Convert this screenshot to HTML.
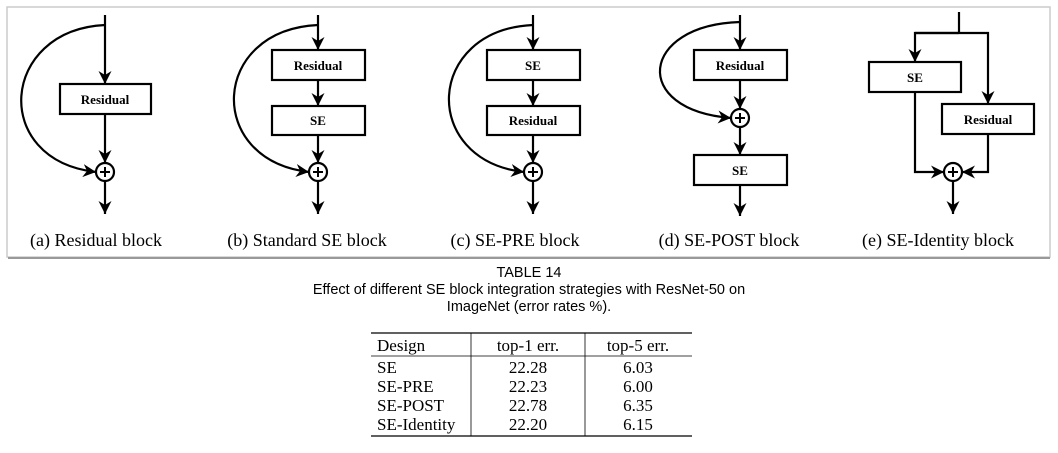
<!DOCTYPE html>
<html><head><meta charset="utf-8"><style>
body{margin:0;background:#fff;width:1058px;height:453px;overflow:hidden}
svg{display:block}
.s{font-family:"Liberation Serif",serif}
.b{font-family:"Liberation Serif",serif;font-weight:bold;font-size:13px}
.a{font-family:"Liberation Sans",sans-serif}
</style></head><body>
<svg width="1058" height="453" viewBox="0 0 1058 453">
<defs><marker id="ar" markerWidth="14" markerHeight="14" refX="13" refY="6.5" orient="auto" markerUnits="userSpaceOnUse"><path d="M0,0 L13,6.5 L0,13 L4,6.5 Z" fill="#000"/></marker></defs>
<rect x="7" y="7" width="1043" height="250" fill="none" stroke="#ccc" stroke-width="1.5"/>
<line x1="8" y1="258" x2="1050" y2="258" stroke="#999" stroke-width="2"/>
<g stroke="#000" stroke-width="2.2" fill="none">
<!-- (a) -->
<line x1="105" y1="15" x2="105" y2="84" marker-end="url(#ar)"/>
<rect x="60" y="84" width="91" height="30" fill="#fff"/>
<line x1="105" y1="114" x2="105" y2="163" marker-end="url(#ar)"/>
<circle cx="105" cy="172" r="9"/>
<path d="M105,25 C0,30 -10,160 96,172" marker-end="url(#ar)"/>
<line x1="105" y1="181" x2="105" y2="214" marker-end="url(#ar)"/>
<!-- (b) -->
<line x1="318" y1="15" x2="318" y2="50" marker-end="url(#ar)"/>
<rect x="272" y="50" width="93" height="30"/>
<line x1="318" y1="80" x2="318" y2="106" marker-end="url(#ar)"/>
<rect x="272" y="106" width="93" height="29"/>
<line x1="318" y1="135" x2="318" y2="163" marker-end="url(#ar)"/>
<circle cx="318" cy="172" r="9"/>
<path d="M318,25 C210,30 205,160 309,172" marker-end="url(#ar)"/>
<line x1="318" y1="181" x2="318" y2="214" marker-end="url(#ar)"/>
<!-- (c) -->
<line x1="533" y1="15" x2="533" y2="50" marker-end="url(#ar)"/>
<rect x="487" y="50" width="93" height="30"/>
<line x1="533" y1="80" x2="533" y2="106" marker-end="url(#ar)"/>
<rect x="487" y="106" width="93" height="29"/>
<line x1="533" y1="135" x2="533" y2="163" marker-end="url(#ar)"/>
<circle cx="533" cy="172" r="9"/>
<path d="M533,25 C425,30 420,160 524,172" marker-end="url(#ar)"/>
<line x1="533" y1="181" x2="533" y2="214" marker-end="url(#ar)"/>
<!-- (d) -->
<line x1="740" y1="15" x2="740" y2="50" marker-end="url(#ar)"/>
<rect x="694" y="50" width="93" height="30"/>
<line x1="740" y1="80" x2="740" y2="109" marker-end="url(#ar)"/>
<circle cx="740" cy="118" r="9"/>
<path d="M740,22 C640,25 630,110 731,118" marker-end="url(#ar)"/>
<line x1="740" y1="127" x2="740" y2="155" marker-end="url(#ar)"/>
<rect x="694" y="155" width="93" height="30"/>
<line x1="740" y1="185" x2="740" y2="216" marker-end="url(#ar)"/>
<!-- (e) -->
<line x1="959" y1="12" x2="959" y2="33"/>
<polyline points="915,33 988,33 988,104" marker-end="url(#ar)"/>
<polyline points="959,33 915,33 915,62" marker-end="url(#ar)"/>
<rect x="869" y="62" width="92" height="30"/>
<rect x="942" y="104" width="92" height="30"/>
<polyline points="915,92 915,172 944,172" marker-end="url(#ar)"/>
<polyline points="988,134 988,172 962,172" marker-end="url(#ar)"/>
<circle cx="953" cy="172" r="9"/>
<line x1="953" y1="181" x2="953" y2="214" marker-end="url(#ar)"/>
</g>
<g stroke="#000" stroke-width="2">
<line x1="100" y1="172" x2="110" y2="172"/><line x1="105" y1="167" x2="105" y2="177"/>
<line x1="313" y1="172" x2="323" y2="172"/><line x1="318" y1="167" x2="318" y2="177"/>
<line x1="528" y1="172" x2="538" y2="172"/><line x1="533" y1="167" x2="533" y2="177"/>
<line x1="735" y1="118" x2="745" y2="118"/><line x1="740" y1="113" x2="740" y2="123"/>
<line x1="948" y1="172" x2="958" y2="172"/><line x1="953" y1="167" x2="953" y2="177"/>
</g>
<g class="b" text-anchor="middle">
<text x="105" y="104">Residual</text>
<text x="318" y="70">Residual</text><text x="318" y="125">SE</text>
<text x="533" y="70">SE</text><text x="533" y="125">Residual</text>
<text x="740" y="70">Residual</text><text x="740" y="175">SE</text>
<text x="915" y="82">SE</text><text x="988" y="124">Residual</text>
</g>
<g class="s" font-size="18" text-anchor="middle">
<text x="96" y="246">(a) Residual block</text>
<text x="307" y="246">(b) Standard SE block</text>
<text x="515" y="246">(c) SE-PRE block</text>
<text x="729" y="246">(d) SE-POST block</text>
<text x="938" y="246">(e) SE-Identity block</text>
</g>
<g class="a" font-size="14.5" text-anchor="middle">
<text x="529" y="277">TABLE 14</text>
<text x="529" y="294">Effect of different SE block integration strategies with ResNet-50 on</text>
<text x="529" y="311">ImageNet (error rates %).</text>
</g>
<g stroke="#000">
<line x1="371" y1="333" x2="692" y2="333" stroke-width="1.2"/>
<line x1="371" y1="356" x2="692" y2="356" stroke-width="0.8"/>
<line x1="371" y1="436" x2="692" y2="436" stroke-width="1.2"/>
<line x1="471" y1="333" x2="471" y2="436" stroke-width="0.8"/>
<line x1="585" y1="333" x2="585" y2="436" stroke-width="0.8"/>
</g>
<g class="s" font-size="17">
<text x="377" y="351">Design</text>
<text x="377" y="373">SE</text><text x="377" y="392">SE-PRE</text><text x="377" y="411">SE-POST</text><text x="377" y="430">SE-Identity</text>
</g>
<g class="s" font-size="17" text-anchor="middle">
<text x="528" y="351">top-1 err.</text><text x="528" y="373">22.28</text><text x="528" y="392">22.23</text><text x="528" y="411">22.78</text><text x="528" y="430">22.20</text>
<text x="638" y="351">top-5 err.</text><text x="638" y="373">6.03</text><text x="638" y="392">6.00</text><text x="638" y="411">6.35</text><text x="638" y="430">6.15</text>
</g>
</svg>
</body></html>
